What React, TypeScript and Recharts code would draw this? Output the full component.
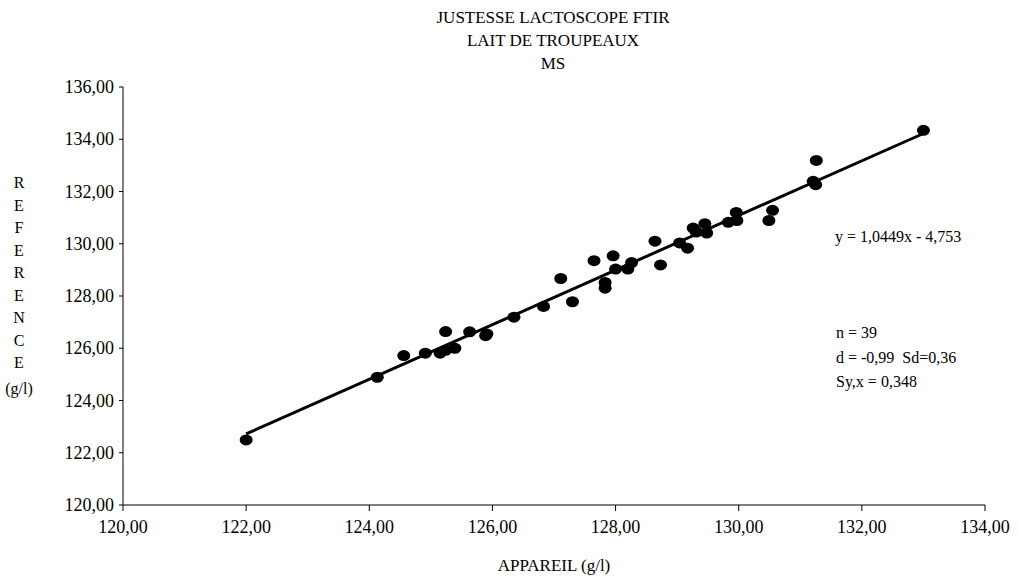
import React from 'react';
import { ScatterChart, Scatter, XAxis, YAxis, ReferenceLine } from 'recharts';

// appareil (x) vs reference (y), g/l
const appareil = [
  122.0, 124.13, 124.56, 124.91, 125.15, 125.24, 125.24, 125.39, 125.63, 125.89,
  125.91, 126.35, 126.83, 127.11, 127.3, 127.65, 127.83, 127.83, 127.96, 128.0,
  128.2, 128.26, 128.64, 128.73, 129.04, 129.17, 129.26, 129.31, 129.45, 129.48,
  129.83, 129.96, 129.97, 130.49, 130.55, 131.21, 131.25, 131.26, 133.0,
];
const reference = [
  122.49, 124.89, 125.72, 125.81, 125.81, 126.64, 125.92, 126.0, 126.63, 126.48,
  126.55, 127.19, 127.6, 128.67, 127.78, 129.35, 128.52, 128.3, 129.54, 129.03,
  129.03, 129.28, 130.1, 129.19, 130.03, 129.83, 130.6, 130.45, 130.77, 130.41,
  130.82, 131.2, 130.89, 130.89, 131.28, 132.39, 132.26, 133.19, 134.34,
];
const trendX = [122, 133];
const trendY = [122.72, 134.22];
const ticks = [120, 122, 124, 126, 128, 130, 132, 134, 136];
const titleLines = ['JUSTESSE LACTOSCOPE FTIR', 'LAIT DE TROUPEAUX', 'MS'];
const yLabelLetters = ['R', 'E', 'F', 'E', 'R', 'E', 'N', 'C', 'E'];
const statLines = ['n = 39', 'd = -0,99  Sd=0,36', 'Sy,x = 0,348'];

const points = appareil.map((x, i) => ({ x, y: reference[i] }));
const fmt = (v: number) => v.toFixed(2).replace('.', ',');
const font = '"Liberation Serif", "Times New Roman", serif';

const Dot = (props: any) => (
  <ellipse cx={props.cx} cy={props.cy} rx={6.5} ry={5.5} fill="#000" />
);

const XTick = (props: any) => (
  <text x={props.x} y={props.y + 14} textAnchor="middle" fontFamily={font} fontSize={18} fill="#000">
    {fmt(props.payload.value)}
  </text>
);

const YTick = (props: any) => (
  <text x={props.x} y={props.y + 6} textAnchor="end" fontFamily={font} fontSize={18} fill="#000">
    {fmt(props.payload.value)}
  </text>
);

export default function App() {
  return (
    <div style={{ position: 'absolute', left: 0, top: 0, width: 1019, height: 584, background: '#fff', fontFamily: font, color: '#000' }}>
      <ScatterChart width={1019} height={584} margin={{ top: 87, right: 34, bottom: 49, left: 63 }}>
        <XAxis
          type="number"
          dataKey="x"
          domain={[120, 134]}
          ticks={ticks.slice(0, 8)}
          stroke="#000"
          tickSize={6}
          tickMargin={8}
          height={30}
          tick={XTick}
          interval={0}
        />
        <YAxis
          type="number"
          dataKey="y"
          domain={[120, 136]}
          ticks={ticks}
          stroke="#000"
          tickSize={4}
          tickMargin={5}
          width={60}
          tick={YTick}
          interval={0}
        />
        <ReferenceLine
          segment={[{ x: trendX[0], y: trendY[0] }, { x: trendX[1], y: trendY[1] }]}
          stroke="#000"
          strokeWidth={3}
          ifOverflow="visible"
        />
        <Scatter data={points} shape={Dot} isAnimationActive={false} />
      </ScatterChart>

      <div style={{ position: 'absolute', left: 0, width: 1106, top: 6, textAlign: 'center', fontSize: 17, lineHeight: '23px' }}>
        {titleLines.map((t) => <div key={t}>{t}</div>)}
      </div>
      <div style={{ position: 'absolute', left: 4, width: 30, top: 172, textAlign: 'center', fontSize: 16, lineHeight: '22.5px' }}>
        {yLabelLetters.map((t, i) => <div key={i}>{t}</div>)}
        <div style={{ marginTop: 3 }}>(g/l)</div>
      </div>
      <div style={{ position: 'absolute', left: 0, width: 1108, top: 556, textAlign: 'center', fontSize: 17 }}>
        APPAREIL (g/l)
      </div>
      <div style={{ position: 'absolute', left: 835, top: 228, fontSize: 16 }}>y = 1,0449x - 4,753</div>
      <div style={{ position: 'absolute', left: 836, top: 321, fontSize: 16, lineHeight: '24.5px', whiteSpace: 'pre' }}>
        {statLines.map((t) => <div key={t}>{t}</div>)}
      </div>
    </div>
  );
}
